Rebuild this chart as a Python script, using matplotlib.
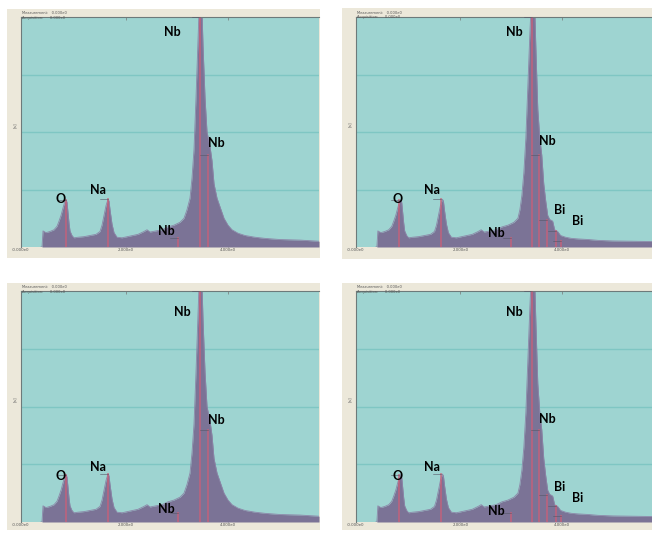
import matplotlib.pyplot as plt
from matplotlib.patches import Rectangle

# EDS spectra, channel number vs counts
ch_nn = [20, 21, 22, 25, 29, 33, 36, 38, 40, 42, 44, 45, 46, 47, 48, 49, 51, 53, 57, 63, 69,
         75, 79, 81, 83, 85, 87, 88, 89, 91, 93, 96, 101, 109, 117, 123, 126, 129, 135,
         141, 147, 153, 159, 163, 166, 169, 171, 173, 175, 177, 178, 181, 182, 184, 186,
         189, 191, 193, 196, 199, 203, 207, 211, 217, 224, 234, 244, 259, 279, 298]
cnt_nn = [0, 0, 280, 250, 270, 300, 360, 450, 550, 680, 800, 820, 780, 600, 420, 280, 200,
          160, 170, 180, 200, 220, 270, 380, 550, 720, 830, 800, 650, 400, 250, 170, 160,
          190, 220, 270, 300, 260, 280, 300, 350, 380, 430, 500, 650, 850, 1200, 1700,
          2600, 3600, 4100, 4100, 3500, 2600, 2000, 1750, 1500, 1100, 850, 700, 500, 380,
          300, 240, 200, 170, 150, 130, 120, 100]

ch_bnt = [20, 21, 22, 25, 29, 33, 36, 38, 40, 42, 44, 45, 46, 47, 48, 49, 51, 53, 57, 63, 69,
          75, 79, 81, 83, 85, 87, 88, 89, 91, 93, 96, 101, 109, 117, 123, 126, 129, 135,
          141, 147, 153, 159, 163, 165, 167, 169, 171, 173, 175, 176, 180, 181, 183, 185,
          187, 189, 191, 193, 195, 198, 200, 203, 206, 211, 217, 224, 234, 244, 259, 279, 298]
cnt_bnt = [0, 0, 280, 250, 270, 300, 360, 450, 550, 680, 800, 820, 780, 600, 420, 280, 200,
           160, 170, 180, 200, 220, 270, 380, 550, 720, 830, 800, 650, 400, 250, 170, 160,
           190, 220, 270, 300, 260, 280, 300, 350, 380, 430, 500, 650, 900, 1300, 1900,
           2800, 3700, 4100, 4100, 3500, 2400, 1900, 1600, 1100, 800, 550, 480, 450, 300,
           270, 200, 170, 150, 140, 130, 115, 105, 100, 95]

# peak marker lines (channel, height) and element labels (centre positions)
lines_nn = [(45, 820), (87, 830), (157, 150), (179, 4000), (187, 1600)]
lines_bnt = [(43, 820), (86, 830), (156, 150), (177, 4000), (184, 1600),
             (192, 470), (201, 270), (206, 100)]
lab_nn = [("Nb", 151, 3740), ("Nb", 195, 1810), ("O", 40, 840), ("Na", 77, 990), ("Nb", 145, 280)]
lab_bnt = [("Nb", 159, 3740), ("Nb", 193, 1840), ("O", 42, 840), ("Na", 77, 990),
           ("Nb", 141, 240), ("Bi", 205, 640), ("Bi", 223, 450)]
lab_nn_low = [("Nb", 161, 3640), ("Nb", 195, 1760), ("O", 40, 800), ("Na", 77, 950), ("Nb", 145, 230)]
lab_bnt_low = [("Nb", 159, 3640), ("Nb", 193, 1790), ("O", 42, 800), ("Na", 77, 950),
               ("Nb", 141, 190), ("Bi", 205, 600), ("Bi", 223, 410)]

tick_ch = [0, 105, 207]
tick_lab = ["-0.000e0", "2.000e0", "4.000e0"]

W, H = 652, 535
fig = plt.figure(figsize=(W / 100, H / 100), dpi=100)
fig.patch.set_facecolor("white")

teal = "#9ed4d1"
frame = "#ece8da"
spec = "#7b7396"
red = "#cc5f78"


def px_box(x0, y0, x1, y1):
    return [x0 / W, 1 - y1 / H, (x1 - x0) / W, (y1 - y0) / H]


def panel(fb, ab, ch, cnt, lines, labels):
    fx0, fy0, fx1, fy1 = fb
    bg = Rectangle((fx0 / W, 1 - fy1 / H), (fx1 - fx0) / W, (fy1 - fy0) / H,
                   transform=fig.transFigure, facecolor=frame, edgecolor="none", zorder=-10)
    fig.add_artist(bg)
    ax = fig.add_axes(px_box(*ab))
    ax.set_zorder(1)
    ax.set_facecolor(teal)
    ax.fill_between(ch, cnt, color=spec, lw=0, zorder=2)
    ax.plot(ch, cnt, color="#8c86a8", lw=0.6, zorder=2)
    for x, h in lines:
        ax.plot([x, x], [0, h], color=red, lw=1.3, alpha=0.75, zorder=3)
        ax.plot([x - 8, x], [h, h], color="#555566", lw=0.4, zorder=3)
    for t, x, y in labels:
        ax.text(x, y, t, fontsize=9, fontweight="bold", family="Lato",
                color="black", ha="center", va="center", zorder=4)
    ax.set_xlim(0, 298)
    ax.set_ylim(0, 4000)
    ax.set_yticks([1000, 2000, 3000])
    ax.yaxis.grid(True, color="#7fc6c3", lw=1)
    ax.set_axisbelow(True)
    ax.set_yticklabels([])
    ax.tick_params(axis="y", length=0)
    ax.set_xticks(tick_ch)
    ax.set_xticklabels(tick_lab, fontsize=2.8, color="#555555")
    ax.tick_params(axis="x", direction="in", length=2, width=0.5, pad=1,
                   top=True, color="#777777")
    for s in ["left", "top"]:
        ax.spines[s].set_color("#6d7a7a")
        ax.spines[s].set_linewidth(0.8)
    for s in ["right", "bottom"]:
        ax.spines[s].set_visible(False)
    # header and axis captions, tiny as in the screenshot
    fig.text((ab[0] + 1) / W, 1 - (fy0 + 2.5) / H, "Measurement:   0.000e0\nAcquisition:      0.000e0",
             fontsize=2.6, color="#555555", va="top", linespacing=1.1)
    fig.text((fx0 + 8) / W, 1 - 125 / H - (fy0 - 9) / H, "[s]", fontsize=3.2,
             color="#666666", rotation=90, ha="center", va="center")
    return ax


panel((7, 9, 320, 258), (21, 17, 319, 247), ch_nn, cnt_nn, lines_nn, lab_nn)
panel((342, 8, 652, 259), (356, 17, 652, 247), ch_bnt, cnt_bnt, lines_bnt, lab_bnt)
panel((7, 283, 320, 530), (21, 291, 319, 522), ch_nn, cnt_nn, lines_nn, lab_nn_low)
panel((342, 283, 652, 530), (356, 291, 652, 522), ch_bnt, cnt_bnt, lines_bnt, lab_bnt_low)

fig.savefig("out.png", dpi=100)
